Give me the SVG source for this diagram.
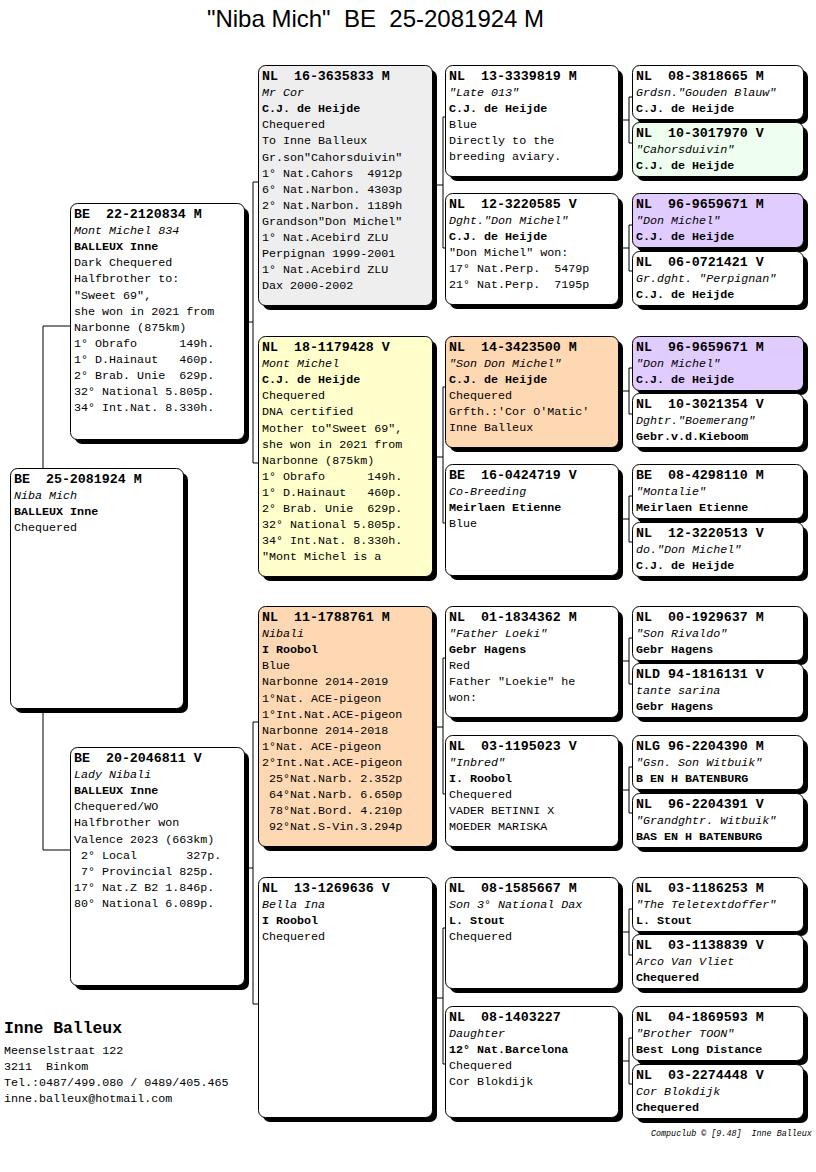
<svg xmlns="http://www.w3.org/2000/svg" width="816" height="1172" viewBox="0 0 816 1172">
<style>
text{font-family:"Liberation Mono","Courier New",monospace;white-space:pre;fill:#000}
.h{font-size:13.3px;font-weight:bold}
.n{font-size:11.7px;font-style:italic}
.b{font-size:11.7px;font-weight:bold}
.t{font-size:11.7px}
.sh{fill:#000}
.bx{stroke:#000;stroke-width:1;fill:#fff}
.grey{fill:#eeeeee}.yel{fill:#ffffcc}.pea{fill:#fed8b2}.lav{fill:#e0ccff}.grn{fill:#efffef}
.con{fill:none;stroke:#000;stroke-width:1}
.title{font-family:"Liberation Sans",Arial,sans-serif;font-size:24px;text-anchor:middle}
</style>
<text class="title" x="375.5" y="27">"Niba Mich"  BE  25-2081924 M</text>

<g id="connectors" class="con">
<path d="M70,326H43V850H70"/>
<path d="M244,322H253M258,182H253V463H258"/>
<path d="M244,868H253M258,722H253V1004H258"/>
<path d="M432,185H443M445,117H443V248H445"/>
<path d="M432,457H443M445,387H443V523H445"/>
<path d="M432,727H443M445,658H443V794H445"/>
<path d="M432,998H443M445,928H443V1064H445"/>
<path d="M619,120H629M632,97H629V143H632"/>
<path d="M619,248H629M632,225H629V271H632"/>
<path d="M619,391H629M632,368H629V414H632"/>
<path d="M619,519H629M632,496H629V542H632"/>
<path d="M619,661H629M632,638H629V684H632"/>
<path d="M619,790H629M632,767H629V813H632"/>
<path d="M619,932H629M632,909H629V955H632"/>
<path d="M619,1061H629M632,1038H629V1084H632"/>
</g>

<g id="n1">
<rect class="sh" x="15" y="473" width="173" height="240" rx="7"/>
<rect class="bx" x="10.5" y="468.5" width="173" height="240" rx="7"/>
<text x="14" class="t"><tspan class="h" x="14" y="483">BE  25-2081924 M</tspan><tspan class="n" x="14" y="499">Niba Mich</tspan><tspan class="b" x="14" y="515">BALLEUX Inne</tspan><tspan x="14" y="531">Chequered</tspan></text>
</g>

<g id="n2">
<rect class="sh" x="75" y="208" width="174" height="236" rx="7"/>
<rect class="bx" x="70.5" y="203.5" width="174" height="236" rx="7"/>
<text class="t"><tspan class="h" x="74" y="218">BE  22-2120834 M</tspan><tspan class="n" x="74" y="234.1">Mont Michel 834</tspan><tspan class="b" x="74" y="250.2">BALLEUX Inne</tspan><tspan x="74" y="266.3">Dark Chequered</tspan><tspan x="74" y="282.4">Halfbrother to:</tspan><tspan x="74" y="298.5">"Sweet 69",</tspan><tspan x="74" y="314.6">she won in 2021 from</tspan><tspan x="74" y="330.7">Narbonne (875km)</tspan><tspan x="74" y="346.8">1° Obrafo      149h.</tspan><tspan x="74" y="362.9">1° D.Hainaut   460p.</tspan><tspan x="74" y="379">2° Brab. Unie  629p.</tspan><tspan x="74" y="395.1">32° National 5.805p.</tspan><tspan x="74" y="411.2">34° Int.Nat. 8.330h.</tspan></text>
</g>

<g id="n3">
<rect class="sh" x="75" y="752" width="174" height="238" rx="7"/>
<rect class="bx" x="70.5" y="747.5" width="174" height="238" rx="7"/>
<text class="t"><tspan class="h" x="74" y="762">BE  20-2046811 V</tspan><tspan class="n" x="74" y="778.1">Lady Nibali</tspan><tspan class="b" x="74" y="794.2">BALLEUX Inne</tspan><tspan x="74" y="810.3">Chequered/WO</tspan><tspan x="74" y="826.4">Halfbrother won</tspan><tspan x="74" y="842.5">Valence 2023 (663km)</tspan><tspan x="74" y="858.6"> 2° Local       327p.</tspan><tspan x="74" y="874.7"> 7° Provincial 825p.</tspan><tspan x="74" y="890.8">17° Nat.Z B2 1.846p.</tspan><tspan x="74" y="906.9">80° National 6.089p.</tspan></text>
</g>

<g id="n4">
<rect class="sh" x="263" y="70" width="174" height="240" rx="7"/>
<rect class="bx grey" x="258.5" y="65.5" width="174" height="240" rx="7"/>
<text class="t"><tspan class="h" x="262" y="80">NL  16-3635833 M</tspan><tspan class="n" x="262" y="96.1">Mr Cor</tspan><tspan class="b" x="262" y="112.2">C.J. de Heijde</tspan><tspan x="262" y="128.3">Chequered</tspan><tspan x="262" y="144.4">To Inne Balleux</tspan><tspan x="262" y="160.5">Gr.son"Cahorsduivin"</tspan><tspan x="262" y="176.6">1° Nat.Cahors  4912p</tspan><tspan x="262" y="192.7">6° Nat.Narbon. 4303p</tspan><tspan x="262" y="208.8">2° Nat.Narbon. 1189h</tspan><tspan x="262" y="224.9">Grandson"Don Michel"</tspan><tspan x="262" y="241">1° Nat.Acebird ZLU</tspan><tspan x="262" y="257.1">Perpignan 1999-2001</tspan><tspan x="262" y="273.2">1° Nat.Acebird ZLU</tspan><tspan x="262" y="289.3">Dax 2000-2002</tspan></text>
</g>

<g id="n5">
<rect class="sh" x="263" y="341" width="174" height="240" rx="7"/>
<rect class="bx yel" x="258.5" y="336.5" width="174" height="240" rx="7"/>
<text class="t"><tspan class="h" x="262" y="351">NL  18-1179428 V</tspan><tspan class="n" x="262" y="367.1">Mont Michel</tspan><tspan class="b" x="262" y="383.2">C.J. de Heijde</tspan><tspan x="262" y="399.3">Chequered</tspan><tspan x="262" y="415.4">DNA certified</tspan><tspan x="262" y="431.5">Mother to"Sweet 69",</tspan><tspan x="262" y="447.6">she won in 2021 from</tspan><tspan x="262" y="463.7">Narbonne (875km)</tspan><tspan x="262" y="479.8">1° Obrafo      149h.</tspan><tspan x="262" y="495.9">1° D.Hainaut   460p.</tspan><tspan x="262" y="512">2° Brab. Unie  629p.</tspan><tspan x="262" y="528.1">32° National 5.805p.</tspan><tspan x="262" y="544.2">34° Int.Nat. 8.330h.</tspan><tspan x="262" y="560.3">"Mont Michel is a</tspan></text>
</g>

<g id="n6">
<rect class="sh" x="263" y="611" width="174" height="240" rx="7"/>
<rect class="bx pea" x="258.5" y="606.5" width="174" height="240" rx="7"/>
<text class="t"><tspan class="h" x="262" y="621">NL  11-1788761 M</tspan><tspan class="n" x="262" y="637.1">Nibali</tspan><tspan class="b" x="262" y="653.2">I Roobol</tspan><tspan x="262" y="669.3">Blue</tspan><tspan x="262" y="685.4">Narbonne 2014-2019</tspan><tspan x="262" y="701.5">1°Nat. ACE-pigeon</tspan><tspan x="262" y="717.6">1°Int.Nat.ACE-pigeon</tspan><tspan x="262" y="733.7">Narbonne 2014-2018</tspan><tspan x="262" y="749.8">1°Nat. ACE-pigeon</tspan><tspan x="262" y="765.9">2°Int.Nat.ACE-pigeon</tspan><tspan x="262" y="782"> 25°Nat.Narb. 2.352p</tspan><tspan x="262" y="798.1"> 64°Nat.Narb. 6.650p</tspan><tspan x="262" y="814.2"> 78°Nat.Bord. 4.210p</tspan><tspan x="262" y="830.3"> 92°Nat.S-Vin.3.294p</tspan></text>
</g>

<g id="n7">
<rect class="sh" x="263" y="882" width="174" height="240" rx="7"/>
<rect class="bx" x="258.5" y="877.5" width="174" height="240" rx="7"/>
<text class="t"><tspan class="h" x="262" y="892">NL  13-1269636 V</tspan><tspan class="n" x="262" y="908.1">Bella Ina</tspan><tspan class="b" x="262" y="924.2">I Roobol</tspan><tspan x="262" y="940.3">Chequered</tspan></text>
</g>

<g id="n8">
<rect class="sh" x="450" y="70" width="173" height="111" rx="7"/>
<rect class="bx" x="445.5" y="65.5" width="173" height="111" rx="7"/>
<text class="t"><tspan class="h" x="449" y="80">NL  13-3339819 M</tspan><tspan class="n" x="449" y="96">"Late 013"</tspan><tspan class="b" x="449" y="112">C.J. de Heijde</tspan><tspan x="449" y="128">Blue</tspan><tspan x="449" y="144">Directly to the</tspan><tspan x="449" y="160">breeding aviary.</tspan></text>
</g>

<g id="n9">
<rect class="sh" x="450" y="198" width="173" height="111" rx="7"/>
<rect class="bx" x="445.5" y="193.5" width="173" height="111" rx="7"/>
<text class="t"><tspan class="h" x="449" y="208">NL  12-3220585 V</tspan><tspan class="n" x="449" y="224">Dght."Don Michel"</tspan><tspan class="b" x="449" y="240">C.J. de Heijde</tspan><tspan x="449" y="256">"Don Michel" won:</tspan><tspan x="449" y="272">17° Nat.Perp.  5479p</tspan><tspan x="449" y="288">21° Nat.Perp.  7195p</tspan></text>
</g>

<g id="n10">
<rect class="sh" x="450" y="341" width="173" height="111" rx="7"/>
<rect class="bx pea" x="445.5" y="336.5" width="173" height="111" rx="7"/>
<text class="t"><tspan class="h" x="449" y="351">NL  14-3423500 M</tspan><tspan class="n" x="449" y="367">"Son Don Michel"</tspan><tspan class="b" x="449" y="383">C.J. de Heijde</tspan><tspan x="449" y="399">Chequered</tspan><tspan x="449" y="415">Grfth.:'Cor O'Matic'</tspan><tspan x="449" y="431">Inne Balleux</tspan></text>
</g>

<g id="n11">
<rect class="sh" x="450" y="469" width="173" height="111" rx="7"/>
<rect class="bx" x="445.5" y="464.5" width="173" height="111" rx="7"/>
<text class="t"><tspan class="h" x="449" y="479">BE  16-0424719 V</tspan><tspan class="n" x="449" y="495">Co-Breeding</tspan><tspan class="b" x="449" y="511">Meirlaen Etienne</tspan><tspan x="449" y="527">Blue</tspan></text>
</g>

<g id="n12">
<rect class="sh" x="450" y="611" width="173" height="111" rx="7"/>
<rect class="bx" x="445.5" y="606.5" width="173" height="111" rx="7"/>
<text class="t"><tspan class="h" x="449" y="621">NL  01-1834362 M</tspan><tspan class="n" x="449" y="637">"Father Loeki"</tspan><tspan class="b" x="449" y="653">Gebr Hagens</tspan><tspan x="449" y="669">Red</tspan><tspan x="449" y="685">Father "Loekie" he</tspan><tspan x="449" y="701">won:</tspan></text>
</g>

<g id="n13">
<rect class="sh" x="450" y="740" width="173" height="111" rx="7"/>
<rect class="bx" x="445.5" y="735.5" width="173" height="111" rx="7"/>
<text class="t"><tspan class="h" x="449" y="750">NL  03-1195023 V</tspan><tspan class="n" x="449" y="766">"Inbred"</tspan><tspan class="b" x="449" y="782">I. Roobol</tspan><tspan x="449" y="798">Chequered</tspan><tspan x="449" y="814">VADER BETINNI X</tspan><tspan x="449" y="830">MOEDER MARISKA</tspan></text>
</g>

<g id="n14">
<rect class="sh" x="450" y="882" width="173" height="111" rx="7"/>
<rect class="bx" x="445.5" y="877.5" width="173" height="111" rx="7"/>
<text class="t"><tspan class="h" x="449" y="892">NL  08-1585667 M</tspan><tspan class="n" x="449" y="908">Son 3° National Dax</tspan><tspan class="b" x="449" y="924">L. Stout</tspan><tspan x="449" y="940">Chequered</tspan></text>
</g>

<g id="n15">
<rect class="sh" x="450" y="1011" width="173" height="111" rx="7"/>
<rect class="bx" x="445.5" y="1006.5" width="173" height="111" rx="7"/>
<text class="t"><tspan class="h" x="449" y="1021">NL  08-1403227</tspan><tspan class="n" x="449" y="1037">Daughter</tspan><tspan class="b" x="449" y="1053">12° Nat.Barcelona</tspan><tspan x="449" y="1069">Chequered</tspan><tspan x="449" y="1085">Cor Blokdijk</tspan></text>
</g>

<g id="n16">
<rect class="sh" x="637" y="70" width="171" height="54" rx="7"/>
<rect class="bx" x="632.5" y="65.5" width="171" height="54" rx="7"/>
<text class="t"><tspan class="h" x="636" y="80">NL  08-3818665 M</tspan><tspan class="n" x="636" y="96">Grdsn."Gouden Blauw"</tspan><tspan class="b" x="636" y="112">C.J. de Heijde</tspan></text>
</g>
<g id="n17">
<rect class="sh" x="637" y="127" width="171" height="54" rx="7"/>
<rect class="bx grn" x="632.5" y="122.5" width="171" height="54" rx="7"/>
<text class="t"><tspan class="h" x="636" y="137">NL  10-3017970 V</tspan><tspan class="n" x="636" y="153">"Cahorsduivin"</tspan><tspan class="b" x="636" y="169">C.J. de Heijde</tspan></text>
</g>
<g id="n18">
<rect class="sh" x="637" y="198" width="171" height="54" rx="7"/>
<rect class="bx lav" x="632.5" y="193.5" width="171" height="54" rx="7"/>
<text class="t"><tspan class="h" x="636" y="208">NL  96-9659671 M</tspan><tspan class="n" x="636" y="224">"Don Michel"</tspan><tspan class="b" x="636" y="240">C.J. de Heijde</tspan></text>
</g>
<g id="n19">
<rect class="sh" x="637" y="256" width="171" height="54" rx="7"/>
<rect class="bx" x="632.5" y="251.5" width="171" height="54" rx="7"/>
<text class="t"><tspan class="h" x="636" y="266">NL  06-0721421 V</tspan><tspan class="n" x="636" y="282">Gr.dght. "Perpignan"</tspan><tspan class="b" x="636" y="298">C.J. de Heijde</tspan></text>
</g>
<g id="n20">
<rect class="sh" x="637" y="341" width="171" height="54" rx="7"/>
<rect class="bx lav" x="632.5" y="336.5" width="171" height="54" rx="7"/>
<text class="t"><tspan class="h" x="636" y="351">NL  96-9659671 M</tspan><tspan class="n" x="636" y="367">"Don Michel"</tspan><tspan class="b" x="636" y="383">C.J. de Heijde</tspan></text>
</g>
<g id="n21">
<rect class="sh" x="637" y="398" width="171" height="54" rx="7"/>
<rect class="bx" x="632.5" y="393.5" width="171" height="54" rx="7"/>
<text class="t"><tspan class="h" x="636" y="408">NL  10-3021354 V</tspan><tspan class="n" x="636" y="424">Dghtr."Boemerang"</tspan><tspan class="b" x="636" y="440">Gebr.v.d.Kieboom</tspan></text>
</g>
<g id="n22">
<rect class="sh" x="637" y="469" width="171" height="54" rx="7"/>
<rect class="bx" x="632.5" y="464.5" width="171" height="54" rx="7"/>
<text class="t"><tspan class="h" x="636" y="479">BE  08-4298110 M</tspan><tspan class="n" x="636" y="495">"Montalie"</tspan><tspan class="b" x="636" y="511">Meirlaen Etienne</tspan></text>
</g>
<g id="n23">
<rect class="sh" x="637" y="527" width="171" height="54" rx="7"/>
<rect class="bx" x="632.5" y="522.5" width="171" height="54" rx="7"/>
<text class="t"><tspan class="h" x="636" y="537">NL  12-3220513 V</tspan><tspan class="n" x="636" y="553">do."Don Michel"</tspan><tspan class="b" x="636" y="569">C.J. de Heijde</tspan></text>
</g>
<g id="n24">
<rect class="sh" x="637" y="611" width="171" height="54" rx="7"/>
<rect class="bx" x="632.5" y="606.5" width="171" height="54" rx="7"/>
<text class="t"><tspan class="h" x="636" y="621">NL  00-1929637 M</tspan><tspan class="n" x="636" y="637">"Son Rivaldo"</tspan><tspan class="b" x="636" y="653">Gebr Hagens</tspan></text>
</g>
<g id="n25">
<rect class="sh" x="637" y="668" width="171" height="54" rx="7"/>
<rect class="bx" x="632.5" y="663.5" width="171" height="54" rx="7"/>
<text class="t"><tspan class="h" x="636" y="678">NLD 94-1816131 V</tspan><tspan class="n" x="636" y="694">tante sarina</tspan><tspan class="b" x="636" y="710">Gebr Hagens</tspan></text>
</g>
<g id="n26">
<rect class="sh" x="637" y="740" width="171" height="54" rx="7"/>
<rect class="bx" x="632.5" y="735.5" width="171" height="54" rx="7"/>
<text class="t"><tspan class="h" x="636" y="750">NLG 96-2204390 M</tspan><tspan class="n" x="636" y="766">"Gsn. Son Witbuik"</tspan><tspan class="b" x="636" y="782">B EN H BATENBURG</tspan></text>
</g>
<g id="n27">
<rect class="sh" x="637" y="798" width="171" height="54" rx="7"/>
<rect class="bx" x="632.5" y="793.5" width="171" height="54" rx="7"/>
<text class="t"><tspan class="h" x="636" y="808">NL  96-2204391 V</tspan><tspan class="n" x="636" y="824">"Grandghtr. Witbuik"</tspan><tspan class="b" x="636" y="840">BAS EN H BATENBURG</tspan></text>
</g>
<g id="n28">
<rect class="sh" x="637" y="882" width="171" height="54" rx="7"/>
<rect class="bx" x="632.5" y="877.5" width="171" height="54" rx="7"/>
<text class="t"><tspan class="h" x="636" y="892">NL  03-1186253 M</tspan><tspan class="n" x="636" y="908">"The Teletextdoffer"</tspan><tspan class="b" x="636" y="924">L. Stout</tspan></text>
</g>
<g id="n29">
<rect class="sh" x="637" y="939" width="171" height="54" rx="7"/>
<rect class="bx" x="632.5" y="934.5" width="171" height="54" rx="7"/>
<text class="t"><tspan class="h" x="636" y="949">NL  03-1138839 V</tspan><tspan class="n" x="636" y="965">Arco Van Vliet</tspan><tspan class="b" x="636" y="981">Chequered</tspan></text>
</g>
<g id="n30">
<rect class="sh" x="637" y="1011" width="171" height="54" rx="7"/>
<rect class="bx" x="632.5" y="1006.5" width="171" height="54" rx="7"/>
<text class="t"><tspan class="h" x="636" y="1021">NL  04-1869593 M</tspan><tspan class="n" x="636" y="1037">"Brother TOON"</tspan><tspan class="b" x="636" y="1053">Best Long Distance</tspan></text>
</g>
<g id="n31">
<rect class="sh" x="637" y="1069" width="171" height="54" rx="7"/>
<rect class="bx" x="632.5" y="1064.5" width="171" height="54" rx="7"/>
<text class="t"><tspan class="h" x="636" y="1079">NL  03-2274448 V</tspan><tspan class="n" x="636" y="1095">Cor Blokdijk</tspan><tspan class="b" x="636" y="1111">Chequered</tspan></text>
</g>

<g id="footer">
<text x="4" y="1033" style="font-size:16.4px;font-weight:bold">Inne Balleux</text>
<text class="t" x="4" y="1054">Meenselstraat 122</text>
<text class="t" x="4" y="1070">3211  Binkom</text>
<text class="t" x="4" y="1086">Tel.:0487/499.080 / 0489/405.465</text>
<text class="t" x="4" y="1102">inne.balleux@hotmail.com</text>
<text x="651" y="1136" style="font-size:8.4px;font-style:italic">Compuclub © [9.48]  Inne Balleux</text>
</g>
</svg>
